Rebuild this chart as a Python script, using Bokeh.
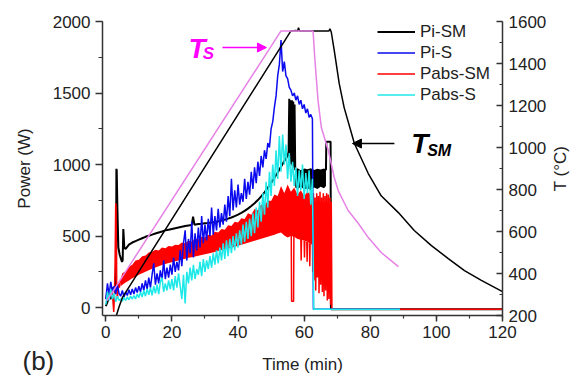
import numpy as np
from bokeh.plotting import figure
from bokeh.models import (Range1d, LinearAxis, SingleIntervalTicker, Legend, LegendItem,
                          Label, Arrow, NormalHead)
from bokeh.embed import file_html
from bokeh.resources import INLINE

NAN = float("nan")
FONT = "Liberation Sans"

# ---------------- data ----------------
t_half = [i * 0.5 for i in range(126)]  # sampling grid 0 .. 62.5 min

pi_s = [60, 170, 90, 180, 110, 150, 95, 160, 100, 80,
        120, 75, 110, 85, 125, 90, 130, 95, 140, 105,
        150, 110, 170, 120, 190, 130, 210, 140, 230, 310,
        160, 240, 170, 260, 190, 330, 200, 280, 210, 300,
        230, 350, 250, 320, 260, 400, 290, 450, 540, 330,
        480, 380, 600, 350, 520, 400, 560, 420, 640, 450,
        580, 470, 620, 500, 700, 510, 640, 540, 690, 560,
        660, 580, 720, 600, 780, 640, 900, 680, 820, 700,
        860, 720, 800, 740, 900, 760, 880, 790, 950, 830,
        980, 870, 1020, 920, 1060, 980, 1100, 1040, 1150, 1120,
        1250, 1300, 1400, 1480, 1620, 1700, 1870, 1650, 1720, 1620,
        1600, 1540, 1520, 1480, 1500, 1450, 1480, 1420, 1450, 1390,
        1420, 1360, 1390, 1330, 1350, 1320]
pi_s_tail_t = [62.8, 89.0]
pi_s_tail = [-12, -12]

pabs_s = [20, 110, 50, 130, 60, 100, 40, 80, 50, 60,
          45, 70, 50, 75, 55, 80, 60, 85, 60, 95,
          70, 110, 75, 120, 80, 130, 90, 140, 85, 150,
          100, 160, 95, 180, 210, 110, 170, 120, 190, 130,
          200, 120, 220, 140, 240, 150, 60, 230, 30, 250,
          170, 280, 190, 300, 200, 270, 230, 320, 220, 340,
          250, 330, 270, 360, 280, 380, 300, 400, 310, 420,
          330, 450, 340, 470, 360, 480, 380, 500, 400, 520,
          420, 540, 440, 580, 460, 600, 480, 620, 500, 660,
          520, 700, 560, 740, 600, 800, 650, 880, 700, 950,
          780, 1000, 850, 1100, 900, 1200, 950, 1210, 1000, 1140,
          900, 1080, 880, 1020, 850, 980, 780, 960, 820, 1000,
          760, 940, 800, 960, 720, 900]
pabs_s_tail_t = [62.9, 89.0]
pabs_s_tail = [-12, -12]

# Pi-SM (black)
pi_sm_t = [0, 0.5, 1.0, 1.5, 2.0, 2.5, 2.9, 3.1, 3.2, 3.3,
           3.5, 3.8, 4.2, 4.6, 4.9, 5.1, 5.3, 5.6, 6, 7,
           8, 9, 10, 11, 12, 13, 14, 15, 16, 17,
           18, 19, 20, 21, 22, 23, 24, 25, 26, 26.4,
           26.8, 28, 29, 30, 31, 32, 33, 34, 35, 36,
           37, 38, 39, 40, 41, 42, 43, 44, 45, 46,
           47, 48, 49, 50, 51, 52, 53, 54, 55, 55.3,
           55.5, 55.7, 55.9, 56.1, 56.3, 56.5, 56.7, 56.9, 57.1, 57.3,
           NAN, 66.6, 66.7, 68.0, 68.1, 120]
pi_sm = [10, 40, 80, 60, 140, 120, 150, 200, 970, 960,
         700, 420, 370, 340, 320, 330, 550, 420, 410, 440,
         455, 465, 475, 485, 495, 503, 510, 518, 525, 532,
         540, 545, 550, 555, 560, 565, 570, 574, 578, 635,
         580, 585, 587, 590, 592, 595, 598, 603, 608, 615,
         622, 630, 640, 650, 662, 676, 692, 710, 730, 752,
         778, 806, 838, 872, 908, 945, 985, 1025, 1060, 1090,
         1460, 1010, 1450, 1000, 1450, 990, 1440, 980, 1420, 960,
         NAN, 960, 1160, 1160, -12, -12]
pi_sm_band_t = [57.3, 58, 59, 60, 61, 62, 63, 64, 65, 66, 66.6]
pi_sm_band_lo = [840, 830, 845, 825, 835, 820, 840, 830, 845, 835, 850]
pi_sm_band_hi = [965, 975, 960, 972, 968, 975, 962, 970, 966, 972, 965]

# Pabs-SM (red): dense band + individual excursions
pabs_sm_band_t = [4.5, 5, 6, 7, 8, 9, 10, 11, 12, 13, 14, 15, 16, 17, 18, 19, 20,
                  21, 22, 23, 24, 25, 26, 27, 28, 29, 30, 31, 32, 33, 34, 35, 36,
                  37, 38, 39, 40, 41, 42, 43, 44, 45, 46, 47, 48, 49, 50, 51, 52,
                  53, 54, 55, 56, 57, 58, 59, 60, 61, 62, 62.5]
pabs_sm_band_lo = [150, 160, 175, 190, 205, 215, 230, 240, 250, 262, 272, 280, 290, 298, 305, 312, 318,
                   324, 330, 336, 342, 348, 353, 358, 363, 368, 373, 378, 383, 389, 395, 401, 407,
                   413, 419, 425, 432, 439, 446, 453, 460, 467, 474, 481, 488, 495, 502, 510, 518,
                   525, 505, 490, 500, 495, 480, 475, 470, 460, 445, 440]
pabs_sm_band_hi = [200, 240, 255, 285, 300, 330, 335, 360, 365, 385, 390, 405, 400, 420, 415, 430, 428,
                   440, 438, 455, 450, 468, 462, 480, 478, 495, 490, 510, 505, 530, 525, 550, 545,
                   575, 570, 600, 595, 625, 620, 660, 650, 690, 680, 720, 710, 750, 745, 790, 780,
                   850, 800, 860, 810, 840, 790, 820, 780, 810, 790, 770]
pabs_sm_t = [0, 0.4, 0.8, 1.2, 1.6, 2.0, 2.4, 2.6, 2.8, 3.0, 3.1, 3.3, 3.5, 3.8, 4.1, 4.5,
             NAN, 56.1, 56.2, 56.8, 56.9,
             NAN, 59.0, 59.1, 59.2, NAN, 60.0, 60.1, 60.2, NAN, 60.8, 60.9, 61.0,
             NAN, 61.6, 61.7, 61.8,
             NAN, 62.4, 62.6, 62.8, 63.0, 63.3, 63.5, 63.8, 64.0, 64.3, 64.5, 64.8, 65.0,
             65.3, 65.5, 65.8, 66.0, 66.3, 66.5, 66.8, 67.0, 67.3, 67.5, 67.8, 68.0, 68.2,
             68.4, 120]
pabs_sm = [60, 110, 70, 120, 80, 100, -30, 80, 300, 730, 700, 150, 60, 170, 140, 200,
           NAN, 500, 45, 45, 500,
           NAN, 480, 330, 480, NAN, 470, 350, 470, NAN, 460, 320, 460,
           NAN, 450, 290, 450,
           NAN, 760, 250, 800, 190, 770, 120, 800, 210, 780, 100, 810, 160,
           770, 110, 800, 80, 780, 120, 800, 50, 790, 60, 770, 20, 740,
           -12, -12]

# temperatures (right axis)
t_sm_t = [3.2, 4.0, 5.0, 56.0, 57.5, 58.0, 58.3, 58.6, 62.0, 67.5, 67.8, 68.2, 69.1, 70.6,
          72.1, 75.2, 79.4, 83.3, 88.5, 93.3, 98.5, 103.6, 108.5, 113.6, 120]
t_sm = [200, 240, 285, 1555, 1557, 1555, 1570, 1555, 1555, 1555, 1565, 1550, 1462, 1305,
        1190, 1019, 876, 770, 690, 605, 533, 471, 414, 367, 314]
t_s_t = [0.3, 53.0, 62.7, 63.2, 64.2, 65.2, 67.3, 69.1, 70.3, 73.3, 76.4, 79.4, 83.3, 88.5]
t_s = [270, 1555, 1555, 1429, 1224, 1095, 986, 857, 795, 700, 638, 571, 500, 433]

legend_labels = ["Pi-SM", "Pi-S", "Pabs-SM", "Pabs-S"]

# axis extents
X_LO, X_HI = -1, 120
P_LO, P_HI = -55, 2000
T_LO, T_HI = 200, 1600

BLACK = "#000000"
BLUE = "#0a0aee"
RED = "#ff0000"
CYAN = "#1ee8e8"
VIOLET = "#e681e6"
MAGENTA = "#ff00ff"
AXIS = "#333333"

# ---------------- layout (pixels) ----------------
W, H = 581, 380
F_L, F_R, F_T, F_B = 102, 502, 21, 315   # axes box on the canvas
sx = (X_HI - X_LO) / (F_R - F_L)
sp = (P_HI - P_LO) / (F_B - F_T)
st = (T_HI - T_LO) / (F_B - F_T)
x_rng = Range1d(X_LO - F_L * sx, X_HI + (W - F_R) * sx)
p_rng = Range1d(P_LO - (H - F_B) * sp, P_HI + F_T * sp)
t_rng = Range1d(T_LO - (H - F_B) * st, T_HI + F_T * st)

p = figure(width=W, height=H, x_range=x_rng, y_range=p_rng,
           output_backend="svg", toolbar_location=None, min_border=0)
p.extra_y_ranges = {"T": t_rng}
p.grid.visible = False
p.outline_line_color = None
p.background_fill_color = "white"

xa = p.xaxis[0]
ya = p.yaxis[0]
xa.ticker = SingleIntervalTicker(interval=20, num_minor_ticks=2)
ya.ticker = SingleIntervalTicker(interval=500, num_minor_ticks=2)
xa.axis_label = "Time (min)"
ya.axis_label = "Power (W)"
xa.fixed_location = P_LO
ya.fixed_location = X_LO
xa.bounds = (X_LO, X_HI)
ya.bounds = (P_LO, P_HI)

right = LinearAxis(y_range_name="T", ticker=SingleIntervalTicker(interval=200, num_minor_ticks=2),
                   fixed_location=X_HI, bounds=(T_LO, T_HI))
p.add_layout(right, "right")

for ax in (xa, ya, right):
    ax.axis_line_color = AXIS
    ax.axis_line_width = 1.5
    ax.major_tick_line_color = AXIS
    ax.minor_tick_line_color = AXIS
    ax.major_tick_line_width = 1.5
    ax.minor_tick_line_width = 1.2
    ax.major_label_text_font = FONT
    ax.major_label_text_font_size = "17px"
    ax.major_label_text_color = "#222222"
    ax.axis_label_text_font = FONT
    ax.axis_label_text_font_size = "17px"
    ax.axis_label_text_font_style = "normal"
    ax.axis_label_text_color = "#222222"

ya.major_tick_in = 0
ya.major_tick_out = 7
ya.minor_tick_in = 0
ya.minor_tick_out = 4
ya.major_label_standoff = 5
ya.axis_label_standoff = 16

xa.major_tick_in = 0
xa.major_tick_out = 6
xa.minor_tick_in = 0
xa.minor_tick_out = 3
xa.major_label_standoff = 4
xa.axis_label_standoff = 14

right.major_tick_in = 6
right.major_tick_out = 0
right.minor_tick_in = 3
right.minor_tick_out = 0
right.major_label_standoff = 6

# ---------------- power curves ----------------
r_black = p.line(pi_sm_t, pi_sm, line_color=BLACK, line_width=2)
p.varea(x=pi_sm_band_t, y1=pi_sm_band_lo, y2=pi_sm_band_hi, fill_color=BLACK)
p.varea(x=pabs_sm_band_t, y1=pabs_sm_band_lo, y2=pabs_sm_band_hi, fill_color=RED)
r_red = p.line(pabs_sm_t, pabs_sm, line_color=RED, line_width=1.5)
r_blue = p.line(t_half + pi_s_tail_t, pi_s + pi_s_tail, line_color=BLUE, line_width=1.5)
r_cyan = p.line(t_half + pabs_s_tail_t, pabs_s + pabs_s_tail, line_color=CYAN, line_width=1.5)

# ---------------- temperature curves ----------------
p.line(t_sm_t, t_sm, y_range_name="T", line_color=BLACK, line_width=1.5)
p.line(t_s_t, t_s, y_range_name="T", line_color=VIOLET, line_width=1.5)

# ---------------- legend ----------------
legend = Legend(items=[LegendItem(label=lab, renderers=[r]) for lab, r in
                       zip(legend_labels, [r_black, r_blue, r_red, r_cyan])],
                location=(377, H - F_T - 84), glyph_width=38, glyph_height=21, label_height=21,
                spacing=0, padding=0, margin=0, label_standoff=5,
                border_line_color=None, background_fill_alpha=0,
                label_text_font=FONT, label_text_font_size="17px", label_text_color="#222222")
p.add_layout(legend)

# ---------------- annotations ----------------
p.add_layout(Label(x=137.5, y=972, text="T (°C)", angle=np.pi / 2, text_align="center",
                   text_baseline="alphabetic", text_font=FONT, text_font_size="17px",
                   text_color="#222222"))

p.add_layout(Label(x=25.0, y=1811, text="T", text_font=FONT, text_font_size="28px",
                   text_font_style="bold italic", text_color=MAGENTA, text_baseline="alphabetic"))
p.add_layout(Label(x=29.3, y=1776, text="S", text_font=FONT, text_font_size="17px",
                   text_font_style="bold italic", text_color=MAGENTA, text_baseline="alphabetic"))
p.add_layout(Arrow(x_start=35.3, y_start=1818, x_end=48.6, y_end=1818, line_color=MAGENTA,
                   line_width=1.5, end=NormalHead(size=9, fill_color=MAGENTA, line_color=MAGENTA)))

p.add_layout(Label(x=92.4, y=1147, text="T", text_font=FONT, text_font_size="28px",
                   text_font_style="bold italic", text_color=BLACK, text_baseline="alphabetic"))
p.add_layout(Label(x=97.2, y=1100, text="SM", text_font=FONT, text_font_size="16px",
                   text_font_style="bold italic", text_color=BLACK, text_baseline="alphabetic"))
p.add_layout(Arrow(x_start=87.3, y_start=1147, x_end=74.6, y_end=1147, line_color=BLACK,
                   line_width=1.5, end=NormalHead(size=9, fill_color=BLACK, line_color=BLACK)))

p.add_layout(Label(x=-25.2, y=-372, text="(b)", text_font=FONT, text_font_size="26px",
                   text_color="#222222", text_baseline="alphabetic"))

open("out.html", "w").write(file_html(p, INLINE))
